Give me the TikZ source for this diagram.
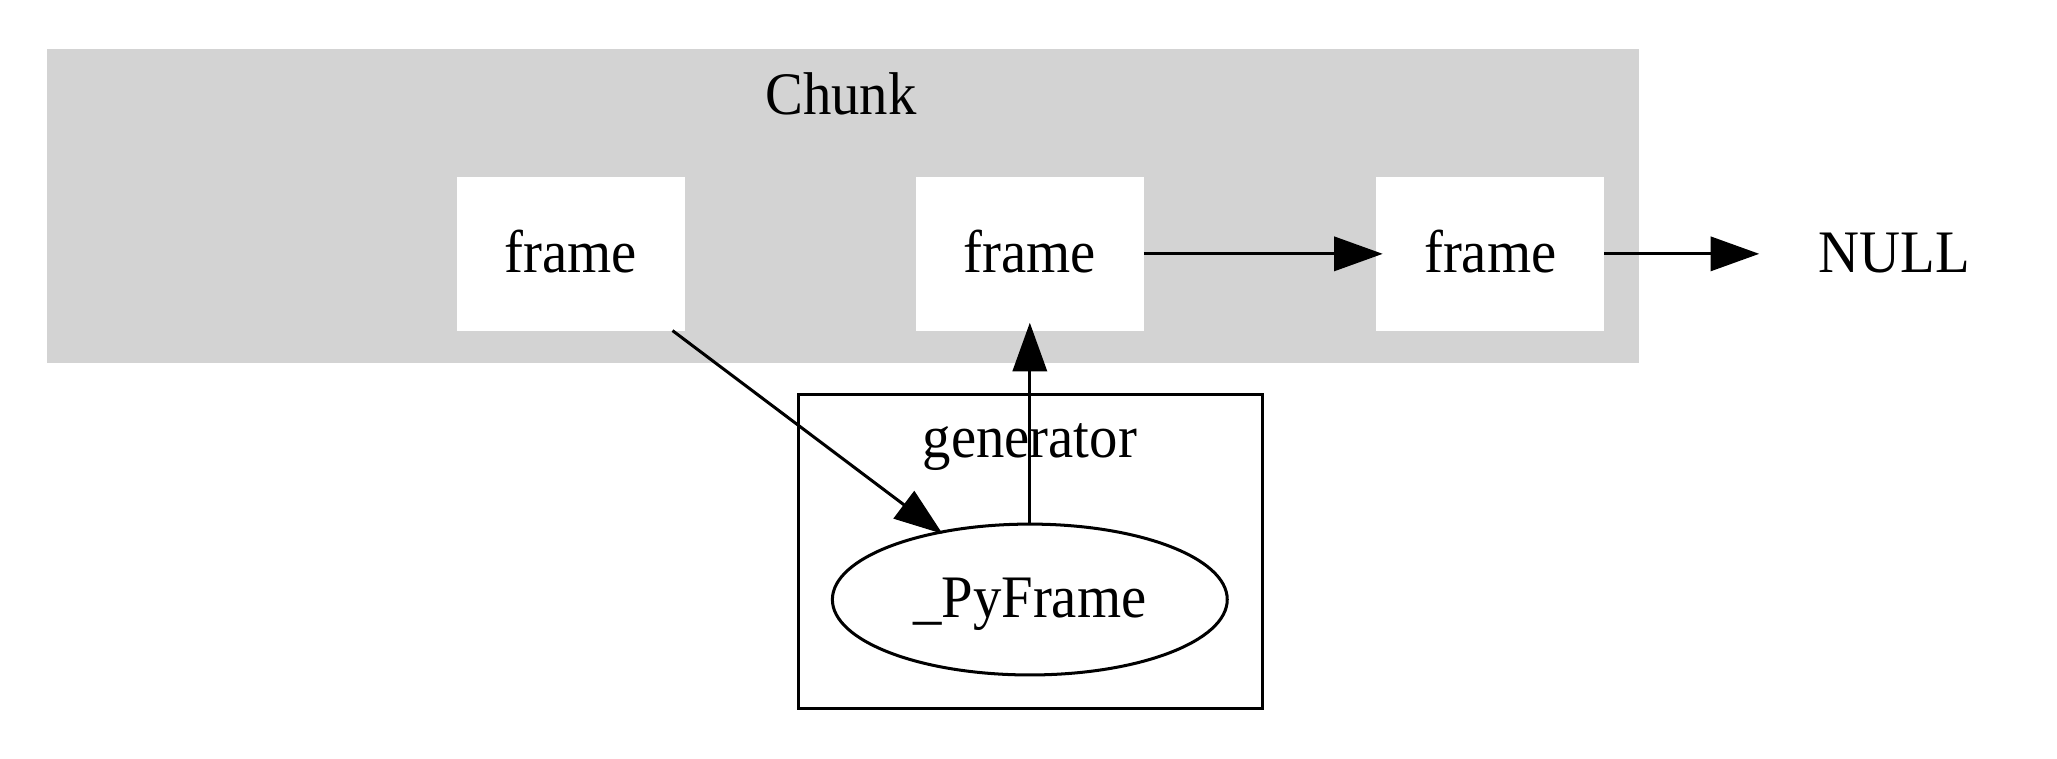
\documentclass[tikz,border=0pt]{standalone}
\usepackage{fontspec}
\setmainfont{Liberation Serif}[FakeStretch=0.94]
\usetikzlibrary{arrows.meta,shapes.geometric}
\definecolor{clustergray}{HTML}{D3D3D3}
\tikzset{
  every node/.style={font=\fontsize{23pt}{27pt}\selectfont, inner sep=0pt, outer sep=0pt},
  edge/.style={line width=1.15pt, -{Triangle[length=18.5pt,width=13pt]}},
  framebox/.style={rectangle, fill=white, minimum width=87pt, minimum height=58.5pt, text height=14pt, text depth=0pt},
  plainnode/.style={rectangle, minimum width=103pt, minimum height=58.5pt, text height=14pt, text depth=0pt},
  ovalnode/.style={ellipse, draw, line width=1.15pt, fill=white, minimum width=150.5pt, minimum height=57.5pt, text height=14pt, text depth=0pt},
  clusterbg/.style={rectangle, fill=clustergray, minimum width=606.5pt, minimum height=120pt},
  clusterbox/.style={rectangle, draw, line width=1.15pt, minimum width=176.5pt, minimum height=119.5pt},
  lbl/.style={anchor=base}
}
\begin{document}
\begin{tikzpicture}[x=0.5pt, y=-0.5pt]
\useasboundingbox (0,0) rectangle (1568,578);
% clusters
\node[clusterbg] (chunk) at (642.5,157) {};
\node[lbl] (chunklbl) at (641,87) {Chunk};
\node[clusterbox] (gen) at (785.5,420.5) {};
\node[lbl] (genlbl) at (785,349) {generator};
% nodes
\node[framebox] (f1) at (435,193.5) {frame};
\node[framebox] (f2) at (785,193.5) {frame};
\node[framebox] (f3) at (1136,193.5) {frame};
\node[plainnode] (null) at (1444,193.5) {NULL};
\node[ovalnode] (pyf) at (785,457) {\_PyFrame};
% edges
\draw[edge, shorten >=-2.5pt] (f2) -- (f3);
\draw[edge] (f3) -- (null);
\draw[edge, shorten >=-3pt] (pyf) -- (f2);
\draw[edge, shorten >=-1pt] (f1) -- (pyf);
\end{tikzpicture}
\end{document}
